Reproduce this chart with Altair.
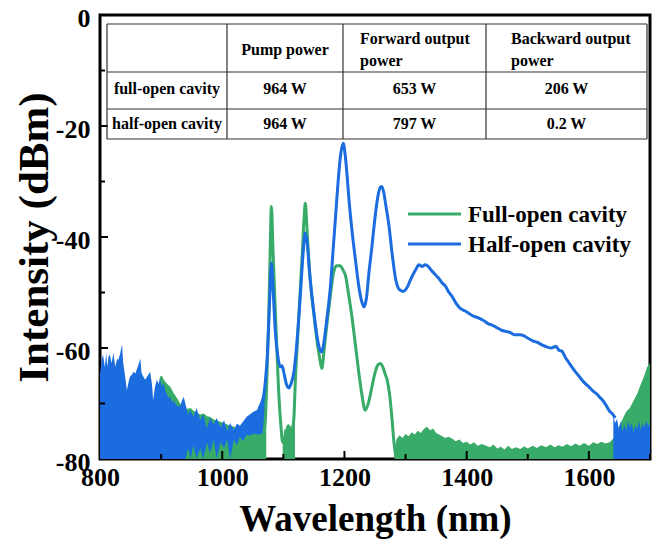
import altair as alt
import pandas as pd

# ---------------- data ----------------
SERIES = ["Full-open cavity", "Half-open cavity"]
COLORS = ["#37ab67", "#1b6cdf"]

# Half-open cavity: smooth part of the spectrum
half_nm = [1060, 1064, 1068, 1071, 1074, 1077, 1080.5, 1083, 1087, 1091, 1095, 1098, 1101, 1105, 1109,
           1113, 1117, 1121, 1125, 1129, 1133, 1136, 1139, 1143, 1147, 1151, 1155, 1159, 1163, 1167,
           1171, 1177, 1182, 1186, 1190, 1194, 1198, 1201, 1204, 1208, 1213, 1218, 1223, 1228, 1232,
           1236, 1240, 1245, 1250, 1255, 1259, 1261, 1264, 1268, 1273, 1278, 1284, 1290, 1296, 1302,
           1307, 1312, 1317, 1322, 1327, 1332, 1337, 1342, 1348, 1354, 1360, 1365, 1370, 1376, 1383,
           1390, 1397, 1404, 1412, 1420, 1427, 1435, 1442, 1449, 1457, 1464, 1471, 1478, 1486, 1494,
           1501, 1508, 1516, 1524, 1531, 1539, 1546, 1551, 1556, 1562, 1567, 1572, 1578, 1584, 1589,
           1595, 1600, 1606, 1612, 1618, 1623, 1628, 1634, 1638, 1643]
half_db = [-71.0, -70.0, -68.5, -65.5, -61.0, -53.0, -44.7, -49.0, -57.3, -61.5, -63.4, -63.2, -64.5, -66.5, -67.2,
           -66.3, -64.5, -60.5, -55.0, -48.5, -42.0, -39.3, -41.0, -46.5, -50.8, -54.5, -57.8, -60.0, -60.7, -58.5,
           -55.0, -49.0, -41.5, -35.5, -29.5, -25.0, -23.1, -25.0, -28.5, -34.0, -39.5, -44.1, -48.5, -51.5, -52.6,
           -51.0, -46.5, -41.7, -36.5, -32.5, -31.0, -30.9, -31.8, -34.5, -38.1, -43.0, -47.7, -49.5, -49.8, -49.2,
           -48.0, -46.8, -45.8, -45.0, -45.3, -45.0, -45.3, -46.0, -46.7, -47.4, -48.3, -48.8, -49.8, -50.7, -52.0,
           -52.9, -53.3, -53.8, -54.3, -54.6, -55.0, -55.6, -55.9, -56.3, -56.8, -57.0, -57.2, -57.6, -57.6, -57.8,
           -58.3, -58.7, -59.0, -59.5, -59.8, -60.0, -59.7, -60.4, -60.6, -61.8, -62.6, -63.4, -64.3, -65.1, -65.8,
           -66.5, -67.0, -67.7, -68.2, -68.9, -69.5, -70.3, -71.4, -71.8, -72.6]

# Half-open cavity: noisy short-wavelength part (upper and lower edge of the noise band)
half_left_nm = [800, 803, 805, 808, 810, 812, 814, 816, 819, 822, 825, 828, 830, 833, 836, 838, 841, 844, 847,
                849, 852, 855, 858, 860, 863, 866, 868, 871, 874, 878, 882, 885, 887, 890, 893, 896, 898, 901,
                904, 907, 909, 912, 915, 918, 920, 925, 931, 934, 937, 940, 944, 948, 953, 958, 964, 969, 975,
                980, 986, 991, 997, 1003, 1008, 1013, 1019, 1024, 1029, 1034, 1040, 1045, 1051, 1056, 1062,
                1066, 1070]
half_left_db = [-64.6, -62.0, -61.2, -63.5, -60.9, -63.4, -61.5, -61.2, -62.7, -60.9, -63.4, -62.0, -62.1, -61.0,
                -59.4, -62.7, -65.0, -67.6, -66.0, -65.2, -64.8, -64.3, -64.6, -63.9, -63.0, -61.9, -64.5, -65.2,
                -65.7, -65.0, -64.3, -66.5, -69.4, -67.0, -65.7, -66.5, -65.4, -67.0, -66.3, -67.8, -68.2, -69.0,
                -68.8, -69.8, -69.4, -70.3, -70.6, -69.5, -68.8, -70.2, -72.0, -71.2, -72.4, -70.8, -73.0, -72.0,
                -74.5, -72.5, -73.8, -72.6, -74.3, -73.0, -75.0, -73.5, -74.8, -73.6, -74.0, -73.3, -72.4, -72.0,
                -71.5, -71.2, -70.6, -69.5, -68.0]
half_left_low = [-80.0] * 50 + [-78.0, -80.0, -77.5, -80.0, -78.0, -80.0, -77.0, -79.0, -76.5, -80.0, -77.0,
                                -78.0, -76.5, -80.0, -76.5, -77.5, -76.0, -76.8, -75.6, -75.8, -75.4, -75.6,
                                -75.5, -75.4, -75.2]

# Half-open cavity: noisy long-wavelength end
half_right_nm = [1640, 1643, 1646, 1649, 1652, 1655, 1658, 1661, 1664, 1667, 1670, 1673, 1676, 1679, 1682,
                 1685, 1688, 1691, 1694, 1697, 1700]
half_right_db = [-72.3, -73.5, -72.8, -74.6, -73.2, -75.1, -73.8, -74.9, -73.1, -74.4, -73.5, -75.2, -73.9,
                 -74.6, -73.2, -74.8, -73.6, -74.3, -73.0, -74.2, -73.5]

# Full-open cavity: smooth part of the spectrum
full_nm = [1068, 1071, 1074, 1076, 1078, 1080.5, 1083, 1086, 1089, 1092, 1096, 1099, 1103, 1108, 1113, 1117,
           1120, 1122, 1125, 1128, 1131, 1134, 1136, 1138, 1141, 1144, 1150, 1155, 1159, 1163, 1167, 1172,
           1177, 1182, 1187, 1193, 1197, 1202, 1207, 1213, 1218, 1223, 1228, 1234, 1239, 1245, 1250, 1255,
           1259, 1263, 1267, 1270, 1274, 1278, 1281, 1284]
full_db = [-75.3, -72.0, -62.0, -55.0, -45.0, -34.5, -42.0, -50.8, -59.0, -67.0, -74.0, -77.0, -76.0, -74.0,
           -75.0, -73.0, -65.0, -61.0, -55.0, -49.0, -43.0, -36.5, -33.9, -37.0, -43.0, -47.7, -54.0, -58.6,
           -61.5, -63.7, -60.0, -55.0, -50.5, -46.5, -45.2, -45.2, -45.8, -47.1, -50.5, -55.0, -59.5, -64.0,
           -68.0, -71.2, -70.0, -67.0, -64.5, -63.0, -62.8, -63.5, -64.8, -65.8, -68.5, -73.0, -77.0, -79.6]

# Full-open cavity: noise floor pieces (upper envelope)
full_left_nm = [898, 901, 905, 910, 915, 920, 926, 931, 937, 942, 948, 953, 958, 964, 970, 975, 980, 986, 991,
                997, 1003, 1008, 1014, 1020, 1025, 1030, 1035, 1040, 1045, 1050, 1055, 1060, 1065, 1070, 1072]
full_left_db = [-65.2, -65.0, -65.8, -66.5, -67.0, -68.0, -69.0, -70.0, -70.5, -71.0, -70.8, -71.3, -71.6, -72.0,
                -71.8, -72.3, -72.4, -72.9, -73.0, -73.3, -73.5, -73.8, -74.0, -74.2, -74.8, -75.1, -75.3, -75.3,
                -75.0, -75.3, -75.1, -75.3, -75.2, -75.3, -72.0]
full_dip_nm = [1099, 1102, 1105, 1108, 1111, 1114, 1117, 1119]
full_dip_db = [-77.0, -74.5, -75.5, -73.8, -75.2, -74.0, -73.5, -68.0]
full_right_nm = [1282, 1285, 1290, 1295, 1300, 1305, 1310, 1315, 1320, 1325, 1330, 1335, 1340, 1345, 1350, 1355,
                 1360, 1365, 1370, 1376, 1382, 1388, 1394, 1400, 1406, 1412, 1418, 1425, 1432, 1438, 1444, 1450,
                 1456, 1462, 1468, 1474, 1480, 1488, 1494, 1500, 1508, 1515, 1522, 1530, 1537, 1544, 1550, 1557,
                 1564, 1571, 1578, 1585, 1592, 1600, 1607, 1614, 1620, 1627, 1634, 1640, 1645, 1650, 1656, 1661,
                 1667, 1673, 1679, 1684, 1690, 1695, 1700]
full_right_db = [-79.0, -76.5, -75.7, -76.2, -75.5, -75.9, -75.2, -75.6, -74.9, -75.3, -74.6, -74.2, -74.8, -74.5,
                 -75.3, -75.6, -75.9, -76.2, -76.0, -76.3, -76.8, -76.5, -77.1, -76.9, -77.4, -77.0, -77.6, -77.3,
                 -77.6, -77.9, -77.4, -78.1, -77.8, -78.3, -77.6, -78.2, -77.9, -78.2, -77.7, -78.1, -77.6, -78.0,
                 -77.5, -77.9, -77.4, -77.9, -77.5, -77.8, -77.3, -77.7, -77.2, -77.6, -77.1, -77.6, -77.0, -77.3,
                 -76.9, -77.2, -77.0, -76.3, -75.5, -74.0, -72.6, -71.5, -70.8, -69.5, -68.3, -66.8, -65.2, -63.5,
                 -62.7]

# Table contents
table_header = ["Pump power", "Forward output", "power", "Backward output", "power"]
table_rows = ["full-open cavity", "half-open cavity"]
pump_power = ["964 W", "964 W"]
forward_power = ["653 W", "797 W"]
backward_power = ["206 W", "0.2 W"]

x_labels = [800, 1000, 1200, 1400, 1600]
y_labels = [0, -20, -40, -60, -80]
x_minor = [900, 1100, 1300, 1500, 1700]
x_major = [1000, 1200, 1400, 1600]
y_minor = [-10, -30, -50, -70]
y_major = [-20, -40, -60]

# ---------------- layout ----------------
W, H = 550, 444
XMIN, XMAX, YMIN, YMAX = 800, 1700, -80, 0
FONT = "Liberation Serif"


def px2nm(px):
    return XMIN + px * (XMAX - XMIN) / W


def py2db(py):
    return YMAX - py * (YMAX - YMIN) / H


xscale = alt.Scale(domain=[XMIN, XMAX], nice=False, zero=False)
yscale = alt.Scale(domain=[YMIN, YMAX], nice=False, zero=False)
xaxis = alt.Axis(values=x_labels, ticks=False, domain=False, grid=False, labelFlush=False,
                 labelExpr="'' + datum.value",
                 labelFont=FONT, labelFontSize=26, labelFontWeight="bold", labelColor="black",
                 labelPadding=5, title="Wavelength (nm)", titleFont=FONT, titleFontSize=37,
                 titleFontWeight="bold", titleColor="black", titleY=71, titleBaseline="alphabetic")
yaxis = alt.Axis(values=y_labels, ticks=False, domain=False, grid=False, labelFlush=False,
                 labelExpr="'' + datum.value", labelOffset=3,
                 labelFont=FONT, labelFontSize=26, labelFontWeight="bold", labelColor="black",
                 labelPadding=10, title="Intensity (dBm)", titleFont=FONT, titleFontSize=43,
                 titleFontWeight="bold", titleColor="black", titleX=-66, titleY=H / 2,
                 titleAngle=-90, titleAlign="center", titleBaseline="middle")


def X(f="nm"):
    return alt.X(f, type="quantitative", scale=xscale, axis=xaxis)


def Y(f="db"):
    return alt.Y(f, type="quantitative", scale=yscale, axis=yaxis)


def df(nm, db):
    return pd.DataFrame({"nm": nm, "db": db})


def area(d, color, low=None):
    y2 = alt.Y2("low:Q") if low is not None else alt.datum(YMIN)
    if low is not None:
        d = d.assign(low=low)
    return alt.Chart(d).mark_area(color=color, opacity=1, interpolate="linear").encode(
        x=X(), y=Y(), y2=y2)


def line(d, color):
    return alt.Chart(d).mark_line(color=color, strokeWidth=3, interpolate="monotone").encode(x=X(), y=Y())


green, blue = COLORS
layers = [
    area(df(full_left_nm, full_left_db), green),
    area(df(half_left_nm, half_left_db), blue, half_left_low),
    area(df(full_dip_nm, full_dip_db), green),
    area(df(full_right_nm, full_right_db), green),
    area(df(half_right_nm, half_right_db), blue),
    line(df(full_nm, full_db), green),
    line(df(half_nm, half_db), blue),
]

# inward ticks
for vals, ln in [(x_major, 8), (x_minor, 5)]:
    layers.append(alt.Chart(pd.DataFrame({"nm": vals})).mark_rule(color="black", strokeWidth=2).encode(
        x=X(), y=alt.value(H), y2=alt.value(H - ln)))
for vals, ln in [(y_major, 8), (y_minor, 5)]:
    layers.append(alt.Chart(pd.DataFrame({"db": vals})).mark_rule(color="black", strokeWidth=2).encode(
        y=Y(), x=alt.value(0), x2=alt.value(ln)))

# table (pixel layout relative to plot origin)
col_px = [7, 127, 243, 386, 547]
row_px = [9, 57, 94, 124]
hl = pd.DataFrame({"nm": [px2nm(col_px[0])] * 4, "nm2": [px2nm(col_px[-1])] * 4,
                   "db": [py2db(r) for r in row_px]})
vl = pd.DataFrame({"nm": [px2nm(c) for c in col_px], "db": [py2db(row_px[0])] * 5,
                   "db2": [py2db(row_px[-1])] * 5})
layers.append(alt.Chart(hl).mark_rule(color="#333333", strokeWidth=1.2).encode(
    x=X(), x2="nm2:Q", y=Y()))
layers.append(alt.Chart(vl).mark_rule(color="#333333", strokeWidth=1.2).encode(
    x=X(), y=Y(), y2="db2:Q"))

row_y = [74, 109]
center_txt = pd.DataFrame({
    "nm": [px2nm((col_px[1] + col_px[2]) / 2)]
          + [px2nm((col_px[0] + col_px[1]) / 2)] * 2
          + [px2nm((col_px[1] + col_px[2]) / 2)] * 2
          + [px2nm((col_px[2] + col_px[3]) / 2)] * 2
          + [px2nm((col_px[3] + col_px[4]) / 2)] * 2,
    "db": [py2db(35)] + [py2db(r) for r in row_y] * 4,
    "t": [table_header[0]] + table_rows + pump_power + forward_power + backward_power,
})
left_txt = pd.DataFrame({
    "nm": [px2nm(260), px2nm(260), px2nm(411), px2nm(411)],
    "db": [py2db(24), py2db(46), py2db(24), py2db(46)],
    "t": table_header[1:],
})
tfont = dict(font=FONT, fontSize=16, fontWeight="bold", color="black", baseline="middle")
layers.append(alt.Chart(center_txt).mark_text(align="center", **tfont).encode(x=X(), y=Y(), text="t:N"))
layers.append(alt.Chart(left_txt).mark_text(align="left", **tfont).encode(x=X(), y=Y(), text="t:N"))

# legend
leg_y = [199, 229]
for i, s in enumerate(SERIES):
    ld = pd.DataFrame({"nm": [px2nm(308)], "nm2": [px2nm(361)], "db": [py2db(leg_y[i])]})
    layers.append(alt.Chart(ld).mark_rule(color=COLORS[i], strokeWidth=3).encode(
        x=X(), x2="nm2:Q", y=Y()))
    td = pd.DataFrame({"nm": [px2nm(368)], "db": [py2db(leg_y[i])], "t": [s]})
    layers.append(alt.Chart(td).mark_text(align="left", baseline="middle", font=FONT, fontSize=23,
                                          fontWeight="bold", color="black", dy=1).encode(
        x=X(), y=Y(), text="t:N"))

chart = alt.layer(*layers).properties(
    width=W, height=H,
    autosize=alt.AutoSizeParams(type="none"),
    padding={"left": 92, "top": 7, "right": 3, "bottom": 90},
    background="white",
).configure_view(stroke="black", strokeWidth=3)

chart.save("out.html", embed_options={"renderer": "svg", "actions": False})
